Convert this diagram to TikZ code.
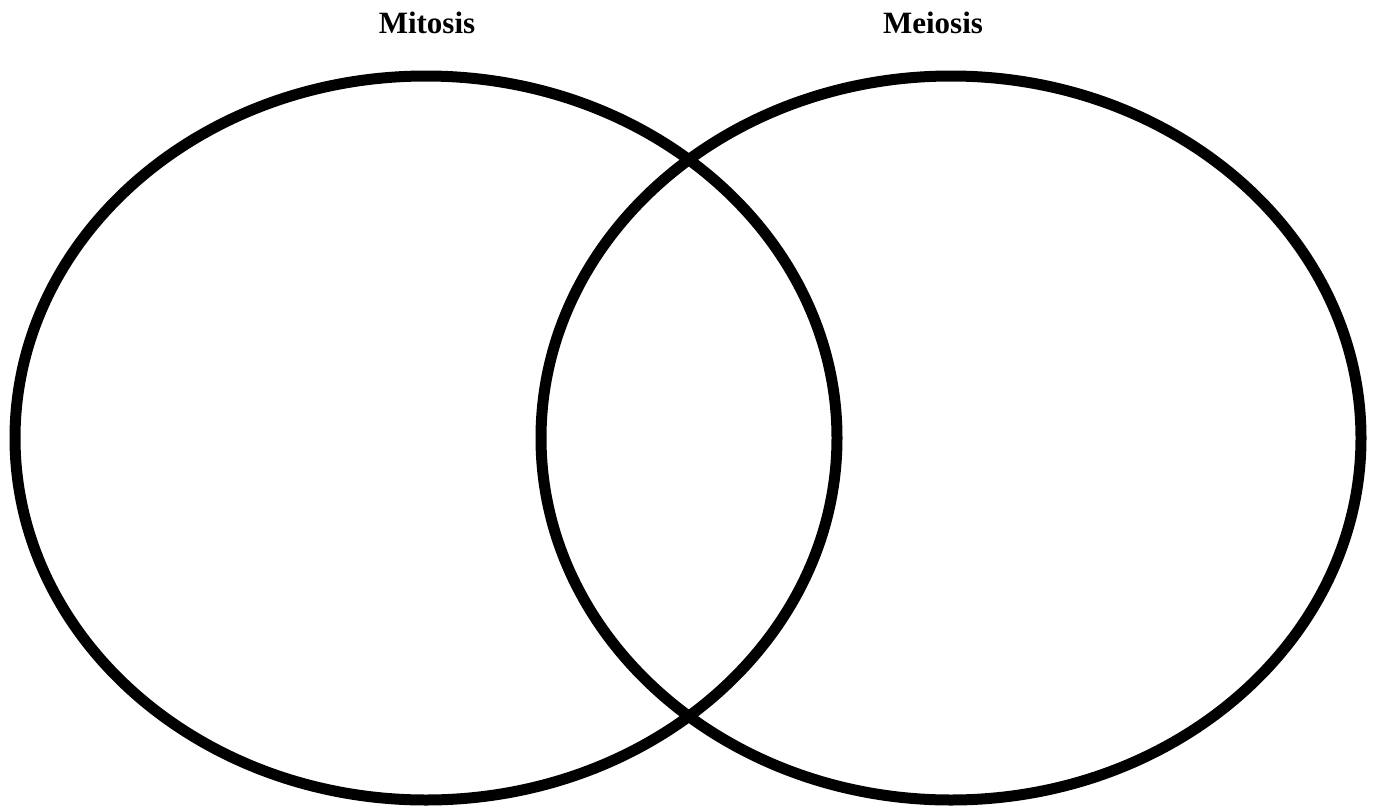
\documentclass[tikz,border=0pt]{standalone}
\usepackage{fontspec}
\setmainfont{Liberation Serif}
\begin{document}
\begin{tikzpicture}[x=1pt,y=-1pt,
  ring/.style={line width=11pt,draw=black},
  title/.style={font=\bfseries\fontsize{31}{36}\selectfont,anchor=base,inner sep=0pt}]
\useasboundingbox (0,0) rectangle (1379,809);
\draw[ring] (426,438) ellipse [x radius=411pt, y radius=362pt];
\draw[ring] (951,438) ellipse [x radius=410pt, y radius=362pt];
\node[title] (mitosis) at (427,33) {Mitosis};
\node[title] (meiosis) at (933,33) {Meiosis};
\end{tikzpicture}
\end{document}
